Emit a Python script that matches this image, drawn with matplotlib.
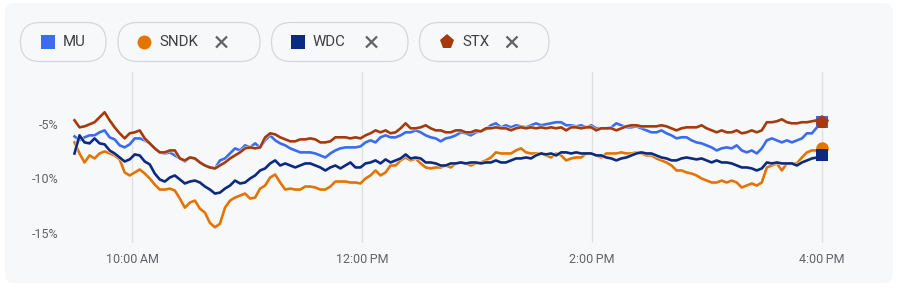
import numpy as np
import matplotlib
matplotlib.use("Agg")
import matplotlib.pyplot as plt
from matplotlib.patches import FancyBboxPatch
import matplotlib.patheffects as pe

plt.rcParams['font.family'] = ['Roboto', 'DejaVu Sans']

# ---------------- data (percent change, 9:30 AM -> 4:00 PM) ----------------
session_minutes = 390  # 9:30 -> 16:00

tickers = ["MU", "SNDK", "WDC", "STX"]
colors = {"MU": "#3b6cf0", "SNDK": "#e37400", "WDC": "#0c2a7f", "STX": "#a63a0b"}

stx = [-4.63,-5.28,-5.19,-5.00,-4.81,-4.35,-3.89,-4.63,-5.28,-5.83,-6.30,-5.83,-5.74,-5.56,-6.30,-6.76,-7.22,-7.59,-7.59,-7.41,-7.41,-8.15,-8.33,-8.06,-8.15,-8.52,-8.80,-8.98,-9.07,
       -8.80,-8.52,-8.15,-7.87,-7.59,-7.22,-7.13,-7.22,-7.13,-6.20,-5.83,-5.93,-6.20,-6.39,-6.57,-6.57,-6.39,-6.39,-6.30,-6.39,-6.67,-6.67,-6.57,-6.20,-6.20,-6.20,-6.30,-6.20,-6.30,
       -6.02,-5.83,-5.56,-5.74,-5.56,-5.83,-5.74,-5.37,-4.91,-5.37,-5.37,-5.28,-5.09,-5.37,-5.56,-5.56,-5.74,-5.74,-5.56,-5.56,-5.74,-5.74,-5.56,-5.65,-5.37,-5.37,-5.28,-5.37,
       -5.37,-5.56,-5.37,-5.28,-5.37,-5.28,-5.37,-5.28,-5.37,-5.28,-5.37,-5.28,-5.56,-5.28,-5.28,-5.37,-5.28,-5.28,-5.56,-5.37,-5.37,-5.37,-5.56,-5.37,-5.19,-5.09,-5.09,-5.19,-5.19,
       -5.19,-5.19,-5.09,-5.19,-5.37,-5.56,-5.37,-5.28,-5.28,-5.28,-5.09,-5.37,-5.56,-5.74,-5.56,-5.74,-5.74,-5.56,-5.83,-5.74,-5.56,-5.74,-5.56,-4.81,-4.81,-4.72,-4.54,-4.81,-4.91,-4.91,-4.81,-4.81,-4.72,-4.63,-4.81]

mu = [-6.11,-6.48,-6.20,-6.02,-6.02,-5.74,-5.56,-6.20,-6.39,-6.94,-7.13,-6.85,-6.30,-6.30,-6.48,-6.76,-7.22,-7.59,-7.69,-7.59,-7.87,-8.15,-8.43,-8.06,-8.15,-8.52,-8.80,-8.98,-9.07,
      -8.33,-8.15,-7.69,-7.22,-7.41,-6.94,-7.13,-6.76,-7.13,-6.48,-6.02,-6.48,-6.76,-6.94,-7.22,-7.41,-7.59,-7.59,-7.59,-7.69,-7.87,-8.06,-7.69,-7.41,-7.22,-7.13,-7.13,-7.13,-7.04,
      -6.67,-6.48,-6.67,-6.20,-6.02,-6.20,-6.20,-6.02,-5.74,-5.74,-5.56,-5.74,-6.02,-6.20,-6.30,-6.57,-6.30,-6.20,-6.02,-5.74,-5.83,-6.02,-5.74,-5.65,-5.46,-5.09,-4.91,-5.28,
      -5.09,-5.28,-5.09,-5.19,-5.28,-5.09,-4.91,-5.09,-5.00,-4.91,-4.81,-4.81,-5.09,-5.09,-5.19,-5.09,-5.28,-5.09,-5.37,-5.37,-5.37,-5.28,-4.91,-5.09,-5.28,-5.28,-5.19,-5.37,-5.56,
      -5.74,-5.74,-5.56,-5.83,-6.02,-6.30,-6.20,-6.20,-6.48,-6.67,-6.76,-6.94,-7.13,-7.41,-7.22,-7.13,-7.22,-6.94,-7.41,-7.59,-7.41,-7.69,-7.22,-6.48,-6.30,-6.48,-6.67,-6.48,-6.67,-6.48,-6.30,-5.83,-5.83,-5.28,-4.81]

wdc = [-7.69,-6.02,-6.67,-6.76,-6.30,-6.76,-6.85,-7.41,-7.69,-8.06,-8.43,-8.24,-7.78,-7.87,-8.43,-8.70,-9.54,-10.09,-10.28,-9.91,-9.72,-10.09,-10.46,-10.28,-10.19,-10.37,-10.74,-11.02,-11.39,
       -11.30,-10.93,-10.65,-10.19,-10.46,-10.37,-10.00,-9.72,-9.26,-9.07,-8.61,-8.33,-8.80,-8.61,-8.80,-8.98,-8.80,-8.61,-8.61,-8.80,-8.98,-9.26,-8.98,-8.80,-9.07,-8.80,-8.52,-8.98,-8.98,
       -8.61,-8.52,-8.33,-8.61,-8.24,-8.52,-8.33,-8.15,-7.78,-8.15,-8.06,-8.15,-8.52,-8.52,-8.61,-8.80,-8.80,-8.61,-8.61,-8.52,-8.61,-8.52,-8.52,-8.61,-8.52,-8.52,-8.33,-8.52,
       -8.52,-8.33,-8.15,-8.15,-8.06,-8.15,-7.87,-7.69,-7.78,-7.69,-7.87,-7.59,-7.59,-7.69,-7.59,-7.69,-7.69,-7.69,-7.87,-7.87,-8.06,-8.15,-8.33,-8.15,-8.06,-7.87,-7.69,-7.59,-7.69,
       -7.69,-7.87,-8.06,-8.15,-8.33,-8.33,-8.15,-8.06,-8.15,-8.24,-8.15,-8.33,-8.52,-8.33,-8.52,-8.52,-8.61,-8.80,-8.98,-8.98,-9.07,-9.26,-9.07,-8.52,-8.61,-8.52,-8.61,-8.61,-8.61,-8.80,-8.52,-8.33,-8.15,-8.06,-7.87]

sndk = [-6.67,-7.69,-8.52,-7.87,-8.15,-7.69,-7.50,-7.69,-7.87,-8.24,-9.44,-9.72,-9.44,-9.17,-9.54,-10.00,-10.56,-11.02,-11.02,-10.93,-11.11,-11.85,-12.69,-12.22,-12.04,-12.78,-13.15,-14.10,-14.50,
        -14.17,-12.69,-12.04,-11.76,-11.57,-11.39,-11.85,-11.76,-10.93,-10.65,-9.91,-9.63,-10.37,-11.02,-10.93,-11.02,-11.02,-10.74,-10.74,-10.83,-11.02,-11.02,-10.74,-10.28,-10.28,-10.28,-10.37,-10.37,-10.46,
        -10.00,-9.72,-9.26,-9.72,-9.44,-8.80,-8.80,-8.33,-8.06,-8.33,-8.15,-8.61,-8.98,-9.07,-8.98,-8.98,-8.80,-8.98,-8.61,-8.52,-8.61,-8.80,-8.61,-8.52,-8.33,-8.06,-7.59,-7.69,
        -7.69,-7.69,-7.41,-7.22,-7.59,-7.69,-7.69,-7.69,-7.87,-8.06,-7.69,-7.87,-8.33,-8.15,-8.06,-8.06,-7.69,-7.69,-7.87,-8.06,-7.69,-7.69,-7.69,-7.59,-7.69,-7.69,-7.59,-7.69,-7.87,
        -7.87,-8.15,-8.33,-8.52,-8.80,-9.26,-9.26,-9.44,-9.54,-9.72,-10.00,-10.19,-10.37,-10.37,-10.19,-10.37,-10.19,-10.37,-10.83,-10.65,-10.46,-10.65,-10.37,-8.98,-8.80,-8.61,-9.26,-8.61,-8.61,-8.61,-8.06,-7.59,-7.41,-7.41,-7.22]

series = {"MU": mu, "SNDK": sndk, "WDC": wdc, "STX": stx}
end_markers = {"MU": "s", "SNDK": "o", "WDC": "s", "STX": "p"}

x_tick_minutes = [30, 150, 270, 390]
x_tick_labels = ["10:00\u2009AM", "12:00\u2009PM", "2:00\u2009PM", "4:00\u2009PM"]
y_ticks = [-5, -10, -15]
y_tick_labels = ["-5%", "-10%", "-15%"]

# ---------------- figure ----------------
W, H = 899, 289
fig = plt.figure(figsize=(W / 100, H / 100), dpi=100)
fig.patch.set_facecolor("white")

bg = fig.add_axes([0, 0, 1, 1])
bg.set_xlim(0, W)
bg.set_ylim(H, 0)
bg.axis("off")
card_color = "#f7f8fa"
bg.add_patch(FancyBboxPatch((5, 3), 888, 280, boxstyle="round,pad=0,rounding_size=9",
                            fc=card_color, ec="none", zorder=0))

# legend chips
chips = [
    # name, left, right, icon_x, text_x, close_x
    ("MU", 20.5, 106, 48, 63, None),
    ("SNDK", 118, 260, 144, 159.5, 221.5),
    ("WDC", 271.5, 408, 297.5, 313, 371.5),
    ("STX", 419.5, 549, 447, 462, 512),
]
cy = 42
ch = 39
for name, l, r, ix, tx, cx in chips:
    bg.add_patch(FancyBboxPatch((l, cy - ch / 2), r - l, ch,
                                boxstyle="round,pad=0,rounding_size=19.5",
                                fc=card_color, ec="#d4d7dd", lw=0.9, zorder=1))
    mk = end_markers[name]
    ms = {"s": 9.5, "o": 10.0, "p": 11.0}[mk]
    bg.plot([ix], [cy], marker=mk, ms=ms, color=colors[name], mec=colors[name],
            mew=0, zorder=2, linestyle="none")
    bg.text(tx, cy + 0.5, name, fontsize=10.8, color="#3c4043", va="center", ha="left", zorder=2)
    if cx is not None:
        d = 5.5
        bg.plot([cx - d, cx + d], [cy - d, cy + d], color="#5f6368", lw=1.6,
                solid_capstyle="butt", zorder=2)
        bg.plot([cx - d, cx + d], [cy + d, cy - d], color="#5f6368", lw=1.6,
                solid_capstyle="butt", zorder=2)

# ---------------- main chart axes ----------------
px_left, px_right = 70, 830
px_top, px_bottom = 72, 243
x0_px, px_per_min = 74.5, 115 / 60
y_m5_px, px_per_pct = 124.3, 10.84

ax = fig.add_axes([px_left / W, 1 - px_bottom / H, (px_right - px_left) / W, (px_bottom - px_top) / H])
ax.set_facecolor("none")
ax.set_xlim((px_left - x0_px) / px_per_min, (px_right - x0_px) / px_per_min)
ax.set_ylim(-5 - (px_bottom - y_m5_px) / px_per_pct, -5 + (y_m5_px - px_top) / px_per_pct)

for s in ax.spines.values():
    s.set_visible(False)

ax.set_xticks(x_tick_minutes)
ax.set_xticklabels(x_tick_labels)
ax.set_yticks(y_ticks)
ax.set_yticklabels(y_tick_labels)
ax.tick_params(axis="both", length=0, labelsize=9, labelcolor="#5f6368")
ax.tick_params(axis="x", pad=7)
ax.tick_params(axis="y", pad=8)
ax.grid(axis="x", color="#dfe1e5", lw=1.0)
ax.grid(axis="y", visible=False)
ax.set_axisbelow(True)

for name in tickers:
    vals = series[name]
    t = np.linspace(0, session_minutes, len(vals))
    ax.plot(t, vals, color=colors[name], lw=1.9, solid_joinstyle="round", zorder=3,
            path_effects=[pe.withStroke(linewidth=3.0, foreground=card_color, alpha=0.6)])

for name in tickers:
    vals = series[name]
    mk = end_markers[name]
    ms = {"s": 8.5, "o": 9.0, "p": 10.0}[mk]
    ax.plot([session_minutes], [vals[-1]], marker=mk, ms=ms, color=colors[name],
            mew=0, zorder=4, clip_on=False, linestyle="none")

fig.savefig("out.png", dpi=100, facecolor=fig.get_facecolor())
